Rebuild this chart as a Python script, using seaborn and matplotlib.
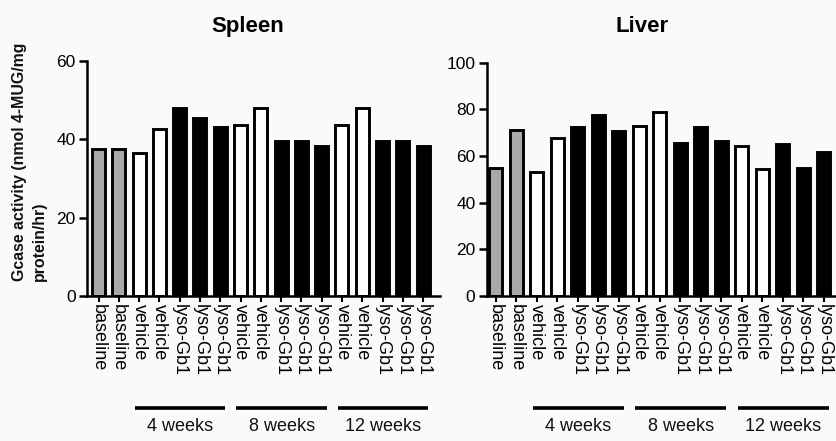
import matplotlib
matplotlib.use("Agg")
import matplotlib.pyplot as plt
import matplotlib.transforms as mtransforms
import seaborn as sns
import pandas as pd

# ---- data ----
labels = ["baseline", "baseline", "vehicle", "vehicle", "lyso-Gb1", "lyso-Gb1", "lyso-Gb1",
          "vehicle", "vehicle", "lyso-Gb1", "lyso-Gb1", "lyso-Gb1",
          "vehicle", "vehicle", "lyso-Gb1", "lyso-Gb1", "lyso-Gb1"]
groups = ["base", "base", "veh", "veh", "lyso", "lyso", "lyso",
          "veh", "veh", "lyso", "lyso", "lyso",
          "veh", "veh", "lyso", "lyso", "lyso"]
spleen = [37.4, 37.4, 36.4, 42.5, 48.0, 45.4, 43.2, 43.7, 48.0, 39.5, 39.5, 38.3,
          43.7, 48.0, 39.5, 39.5, 38.3]
liver = [54.9, 71.1, 53.1, 67.9, 72.4, 77.5, 70.5, 72.9, 78.9, 65.6, 72.4, 66.6,
         64.4, 54.5, 65.1, 54.8, 61.6]
week_labels = ["4 weeks", "8 weeks", "12 weeks"]
week_spans = [(2, 6), (7, 11), (12, 16)]
group_colors = {"base": "#a8a8a8", "veh": "#ffffff", "lyso": "#000000"}

sns.set_theme(style="ticks")
plt.rcParams["font.family"] = ["Liberation Sans", "DejaVu Sans"]
plt.rcParams["text.color"] = "black"
plt.rcParams["xtick.color"] = "black"
plt.rcParams["ytick.color"] = "black"

bg = "#fafafa"
fig = plt.figure(figsize=(8.36, 4.41), dpi=100, facecolor=bg)

ax1 = fig.add_axes([0.104, 0.329, 0.422, 0.533])
ax2 = fig.add_axes([0.582, 0.329, 0.418, 0.529])

ids = [str(i) for i in range(len(labels))]
palette = {i: group_colors[g] for i, g in zip(ids, groups)}


def draw(ax, values, ymax, yticks, title, title_x, xlim):
    df = pd.DataFrame({"id": ids, "value": values})
    sns.barplot(data=df, x="id", y="value", hue="id", order=ids, hue_order=ids,
                palette=palette, edgecolor="black", linewidth=2.1, width=0.64,
                dodge=False, legend=False, saturation=1, ax=ax)
    ax.set_facecolor("none")
    ax.set_ylim(0, ymax)
    ax.set_xlim(*xlim)
    ax.set_yticks(yticks)
    ax.set_yticklabels([str(t) for t in yticks], fontsize=12.5, color="black")
    ax.set_xticks(range(len(labels)))
    ax.set_xticklabels(labels, rotation=-90, fontsize=13, color="black")
    ax.set_xlabel("")
    ax.set_ylabel("")
    for s in ["top", "right"]:
        ax.spines[s].set_visible(False)
    for s in ["left", "bottom"]:
        ax.spines[s].set_linewidth(1.8)
        ax.spines[s].set_color("black")
    ax.tick_params(axis="y", direction="out", length=6, width=1.8, pad=2, colors="black")
    ax.tick_params(axis="x", direction="out", length=4, width=1.5, pad=2, colors="black")
    tt = mtransforms.blended_transform_factory(ax.transAxes, fig.transFigure)
    ax.text(title_x, 0.941, title, transform=tt, fontsize=16, fontweight="bold",
            color="black", ha="center", va="center")
    trans = mtransforms.blended_transform_factory(ax.transData, fig.transFigure)
    for lab, (a, b) in zip(week_labels, week_spans):
        ax.plot([a - 0.2, b + 0.25], [0.0755, 0.0755], color="black", lw=2.6,
                transform=trans, clip_on=False, solid_capstyle="butt")
        ax.text((a + b) / 2 + 0.03, 0.032, lab, transform=trans, ha="center",
                va="center", fontsize=13, color="#111111")


draw(ax1, spleen, 60, [0, 20, 40, 60], "Spleen", 0.456, (-0.57, 16.82))
draw(ax2, liver, 100, [0, 20, 40, 60, 80, 100], "Liver", 0.446, (-0.45, 16.59))

fig.text(0.035, 0.3635, "Gcase activity (nmol 4-MUG/mg\nprotein/hr)", rotation=90,
         ha="center", va="bottom", multialignment="left", fontsize=11.4,
         fontweight="bold", linespacing=1.45, color="#111111")

fig.savefig("out.png", dpi=100, facecolor=bg)
